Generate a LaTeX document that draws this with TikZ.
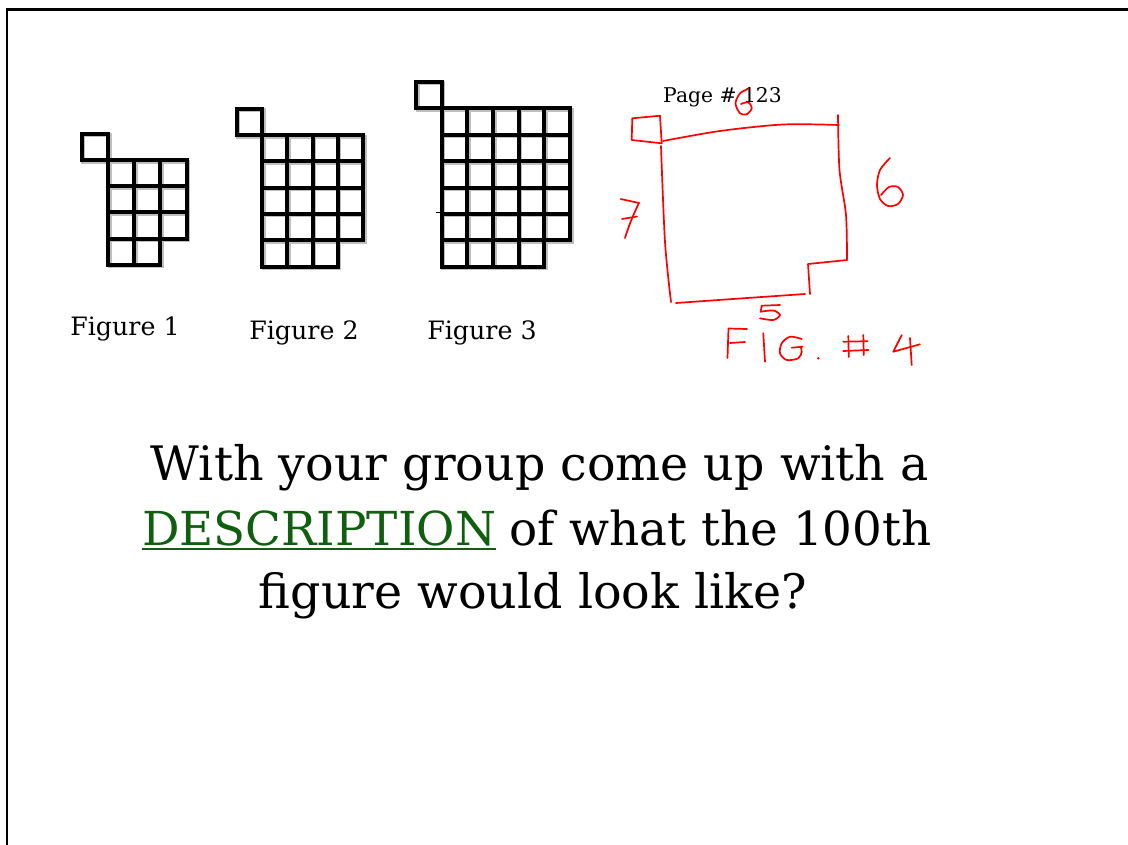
\documentclass[tikz,border=0pt]{standalone}
\usepackage{fontspec}
\setmainfont{DejaVu Serif}
\definecolor{descgreen}{HTML}{0F5F0F}
\definecolor{penred}{HTML}{FF0000}
\tikzset{
  cellline/.style={line width=4, black, line join=miter},
  cellshadow/.style={line width=4, black!25, line join=miter},
  pen/.style={penred, line width=1.7, line cap=round, line join=round},
  lbl/.style={inner sep=0, anchor=base, font=\fontsize{25.3}{28}\selectfont},
  big/.style={inner sep=0, font=\fontsize{47.5}{52}\selectfont},
  bigb/.style={inner sep=0, font=\fontsize{46.8}{52}\selectfont},
}
\newcommand\sqfig[6]{% #1 x0, #2 y0, #3 n, #4 sx, #5 sy, #6 style
  \foreach \i in {1,...,#3}{\foreach \j in {1,...,#3}{%
    \draw[#6] ({#1+(\i-1)*#4},{#2+(\j-1)*#5}) rectangle ++(#4,#5);}}
  \pgfmathtruncatemacro\mm{#3-1}
  \foreach \i in {1,...,\mm}{%
    \draw[#6] ({#1+(\i-1)*#4},{#2+#3*#5}) rectangle ++(#4,#5);}
  \draw[#6] ({#1-#4},{#2-#5}) rectangle ++(#4,#5);
}
\begin{document}
\begin{tikzpicture}[x=1pt,y=-1pt]
\useasboundingbox (0,0) rectangle (1128,844);
% frame
\draw[line width=2.5, black] (7,850) -- (7,9.5) -- (1135,9.5);

% figures 1-3 (shadow, then grid)
\begin{scope}[shift={(1.5,1.5)}]
\sqfig{108}{160}{3}{26.2}{26.2}{cellshadow}
\sqfig{262}{135}{4}{25.3}{26.3}{cellshadow}
\sqfig{441.7}{108.3}{5}{25.66}{26.4}{cellshadow}
\end{scope}
\sqfig{108}{160}{3}{26.2}{26.2}{cellline}
\sqfig{262}{135}{4}{25.3}{26.3}{cellline}
\sqfig{441.7}{108.3}{5}{25.66}{26.4}{cellline}
\draw[line width=1, black] (436,212) -- (442,212);

% labels
\node[lbl] (f1) at (125,335) {Figure 1};
\node[lbl] (f2) at (304,339) {Figure 2};
\node[lbl] (f3) at (482,339) {Figure 3};
\node[inner sep=0, anchor=base, font=\fontsize{20.3}{22}\selectfont] (pg) at (722.5,102) {Page \# 123};

% figure 4 (red handwriting)
\draw[pen] (632.3,118.3) -- (660,115.7) -- (661.7,143.3) -- (631.7,140) -- cycle;
\draw[pen] plot[smooth] coordinates {(663,141) (720,131) (783,124.5) (839,125)};
\draw[pen] plot[smooth] coordinates {(838,115) (839.5,170) (846,215) (847,260)};
\draw[pen] (847,260) -- (808,264) -- (810,294);
\draw[pen] plot[smooth] coordinates {(805,294) (740,298.5) (676,303)};
\draw[pen] plot[smooth] coordinates {(661,146) (665,242) (671,302)};
% 7
\draw[pen] (620.7,199) -- (639,203) .. controls (633,215) and (628,228) .. (625,238);
\draw[pen] (622,219) -- (637,216.5);
% 6 (right)
\draw[pen] plot[smooth] coordinates {(890,158) (880,170) (877,185) (880,199) (888,206) (898,204) (903,195) (898,187) (889,187) (881,195)};
% 6 (top)
\draw[pen] plot[smooth] coordinates {(748.3,89) (740,93.3) (735.5,103.3) (740,113.3) (746.7,114.3) (751.7,108.3) (748.3,102.3) (741,104)};
% 5
\draw[pen] (780,305) -- (761.7,305.7) -- (760.7,311.7);
\draw[pen] plot[smooth] coordinates {(760.7,311.7) (773.3,310.5) (780,315) (773.3,320) (760,318.3)};
% FIG. #4
\draw[pen] (727.5,358) -- (728.5,328.5) -- (747,329);
\draw[pen] (730,343) -- (745,342);
\draw[pen] (763.3,333.3) -- (765,361.7);
\draw[pen] plot[smooth] coordinates {(801.7,339) (790,336.7) (781.7,343.3) (780,353.3) (786.7,360) (798.3,358.3) (801.7,351.7) (800.5,346.7)};
\draw[pen] (791.7,347.7) -- (802.7,346.7);
\fill[penred] (818.3,358.3) circle (1.3);
\draw[pen] (848.3,336) -- (848.8,357);
\draw[pen] (863.3,335) -- (863.8,355);
\draw[pen] (843.3,341.7) -- (867.5,341.2);
\draw[pen] (843.3,351) -- (868.5,350);
\draw[pen] (901.7,335) -- (893.3,351.7) -- (920,344.3);
\draw[pen] (910,338) -- (911.7,365);

% main text
\node[big, anchor=base] (l1) at (540,480) {With your group come up with a};
\node[bigb, anchor=base west, text=descgreen] (desc) at (142,545) {DESCRIPTION};
\node[bigb, anchor=base west] (l2) at ([xshift=13]desc.base east) {of what the 100th};
\draw[descgreen, line width=2] ([yshift=-4]desc.base west) -- ([yshift=-4]desc.base east);
\node[big, anchor=base] (l3) at (533,608) {f{}igure would look like?};
\end{tikzpicture}
\end{document}
